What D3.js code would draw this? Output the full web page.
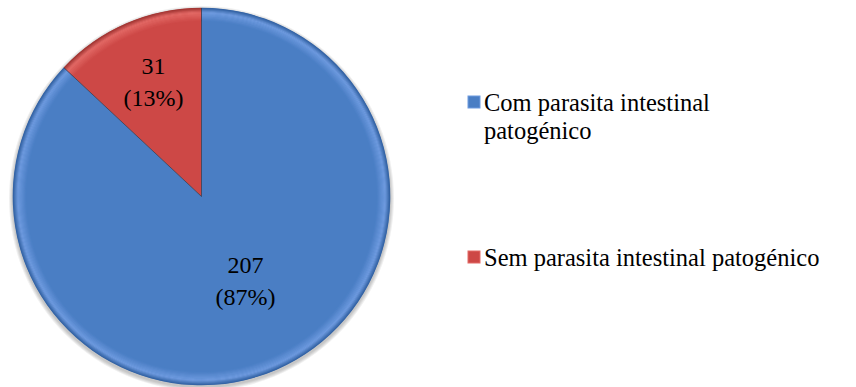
<!DOCTYPE html>
<html>
<head>
<meta charset="utf-8">
<script src="https://cdn.jsdelivr.net/npm/d3@7/dist/d3.min.js"></script>
</head>
<body style="margin:0;background:#ffffff">
<svg id="chart" width="856" height="387" style="display:block"></svg>
<script>
// Parasite survey: counts per group
const categories = ["Com parasita intestinal patogénico", "Sem parasita intestinal patogénico"];
const values = [207, 31];
const percents = ["87%", "13%"];
const colors = ["#4a7ec4", "#cd4846"];
const lightColors = ["#6f9be0", "#e36a66"];
const darkColors = ["#2f5e9e", "#9c3230"];

const svg = d3.select("#chart");
const cx = 201.5, cy = 196.5, r = 188.5;
const serif = '"Liberation Serif"';

// Red slice sits on the left side of 12 o'clock, blue fills the rest clockwise
const pie = d3.pie().sort(null).value(d => d)
  .startAngle(0).endAngle(2 * Math.PI);
const arcs = pie(values);
const arc = d3.arc().innerRadius(0).outerRadius(r);

const g = svg.append("g").attr("transform", `translate(${cx},${cy})`);

// soft drop shadow: stacked translucent discs
[4, 3, 2, 1].forEach(k => {
  g.append("circle").attr("cx", 0).attr("cy", 2).attr("r", r + k)
    .attr("fill", "#000").attr("fill-opacity", 0.06);
});

g.selectAll("path.slice").data(arcs).join("path")
  .attr("class", "slice")
  .attr("d", arc)
  .attr("fill", (d, i) => colors[i]);

// bevelled rim: thin rings stepping base -> light -> dark
const rimSteps = [];
const n1 = 8, n2 = 5;
for (let k = 0; k < n1; k++) {
  rimSteps.push({ r0: r * (0.93 + 0.045 * k / n1), r1: r * (0.93 + 0.045 * (k + 1) / n1), t: (k + 0.5) / n1, phase: 0 });
}
for (let k = 0; k < n2; k++) {
  rimSteps.push({ r0: r * (0.975 + 0.025 * k / n2), r1: r * (0.975 + 0.025 * (k + 1) / n2), t: (k + 0.5) / n2, phase: 1 });
}
arcs.forEach((a, i) => {
  rimSteps.forEach(s => {
    const col = s.phase === 0
      ? d3.interpolateRgb(colors[i], lightColors[i])(s.t)
      : d3.interpolateRgb(lightColors[i], darkColors[i])(s.t);
    g.append("path")
      .attr("d", d3.arc().innerRadius(s.r0).outerRadius(s.r1 + 0.3)(a))
      .attr("fill", col);
  });
});

// thin dark dividers between slices
arcs.forEach(a => {
  const ang = a.startAngle;
  g.append("line")
    .attr("x1", 0).attr("y1", 0)
    .attr("x2", r * Math.sin(ang)).attr("y2", -r * Math.cos(ang))
    .attr("stroke", "#1f3550").attr("stroke-opacity", 0.7).attr("stroke-width", 1);
});

// one text element per line, each with its own font settings
function addText(parent, x, y, str, size, anchor) {
  return parent.append("text")
    .attr("x", x).attr("y", y)
    .attr("text-anchor", anchor || "start")
    .attr("fill", "#000")
    .style("font-family", serif)
    .style("font-size", size + "px")
    .text(str);
}

// value labels
const labelPos = [[44, 76], [-48, -123]];
arcs.forEach((a, i) => {
  addText(g, labelPos[i][0], labelPos[i][1], String(values[i]), 24, "middle");
  addText(g, labelPos[i][0], labelPos[i][1] + 32, `(${percents[i]})`, 24, "middle");
});

// legend
const legendItems = [
  { lines: ["Com parasita intestinal", "patogénico"], y: 111 },
  { lines: ["Sem parasita intestinal patogénico"], y: 266 }
];
legendItems.forEach((item, i) => {
  const lg = svg.append("g");
  lg.append("rect").attr("x", 468).attr("y", item.y - 15).attr("width", 12).attr("height", 12)
    .attr("fill", colors[i]).attr("stroke", lightColors[i]).attr("stroke-width", 1);
  item.lines.forEach((ln, j) => {
    addText(lg, 484, item.y + j * 28, ln, 24.5);
  });
});
</script>
</body>
</html>
